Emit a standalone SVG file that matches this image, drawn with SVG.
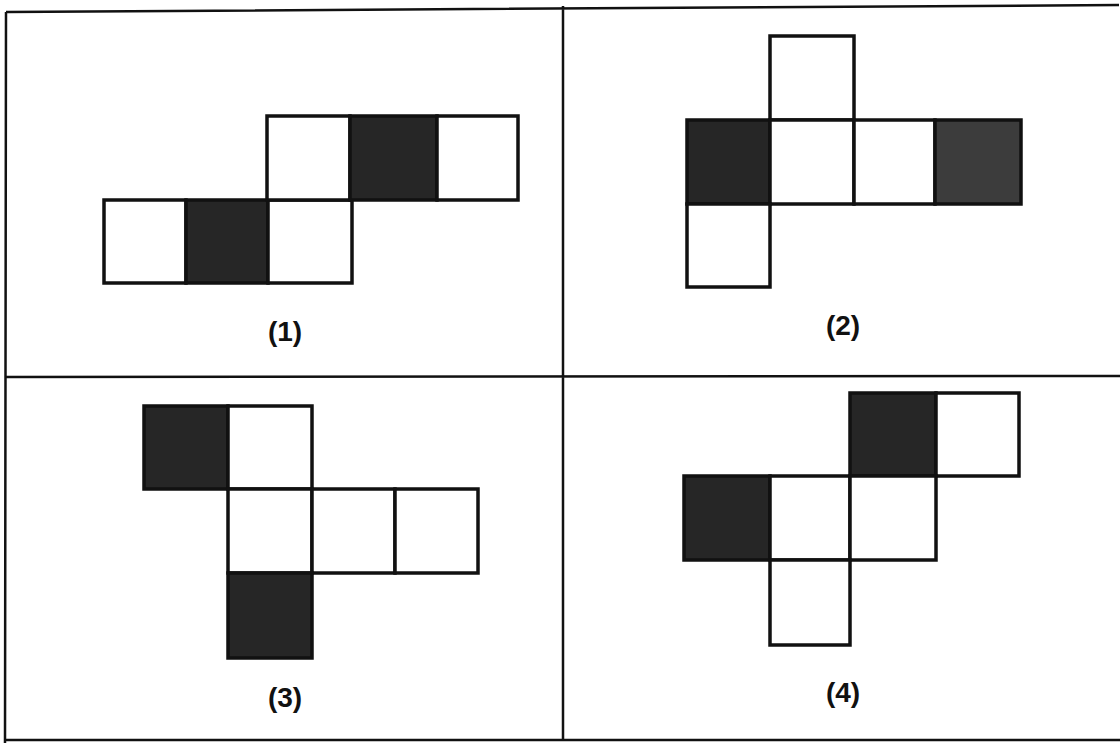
<svg xmlns="http://www.w3.org/2000/svg" width="1120" height="743" viewBox="0 0 1120 743">
<style>
.frame{fill:none;stroke:#111;stroke-width:2.5}
.sq{fill:#fff;stroke:#111;stroke-width:3.5;stroke-linejoin:miter}
.dk{fill:#262626;stroke:#111;stroke-width:3.5}
.md{fill:#3c3c3c;stroke:#111;stroke-width:3.5}
.lbl{font-family:"Liberation Sans",Arial,sans-serif;font-weight:bold;font-size:28px;fill:#111;text-anchor:middle}
</style>
<rect width="1120" height="743" fill="#fff"/>
<g id="frame">
<path class="frame" d="M6 12 L1119 5 M6 12 L5 743 M5 740 L1120 740 M563 6 L563 740 M5 377 L1120 376"/>
</g>
<g id="net1">
<rect class="sq" x="104" y="200" width="82" height="83"/>
<rect class="dk" x="186" y="200" width="82" height="83"/>
<rect class="sq" x="268" y="200" width="84" height="83"/>
<rect class="sq" x="267" y="116" width="83" height="84"/>
<rect class="dk" x="350" y="116" width="87" height="84"/>
<rect class="sq" x="437" y="116" width="81" height="84"/>
<text class="lbl" x="285" y="341">(1)</text>
</g>
<g id="net2">
<rect class="sq" x="770" y="36" width="84" height="84"/>
<rect class="dk" x="687" y="120" width="83" height="84"/>
<rect class="sq" x="770" y="120" width="84" height="84"/>
<rect class="sq" x="854" y="120" width="81" height="84"/>
<rect class="md" x="935" y="120" width="86" height="84"/>
<rect class="sq" x="687" y="204" width="83" height="83"/>
<text class="lbl" x="843" y="335">(2)</text>
</g>
<g id="net3">
<rect class="dk" x="144" y="406" width="84" height="83"/>
<rect class="sq" x="228" y="406" width="84" height="83"/>
<rect class="sq" x="228" y="489" width="84" height="84"/>
<rect class="sq" x="312" y="489" width="83" height="84"/>
<rect class="sq" x="395" y="489" width="83" height="84"/>
<rect class="dk" x="228" y="573" width="84" height="85"/>
<text class="lbl" x="285" y="707">(3)</text>
</g>
<g id="net4">
<rect class="dk" x="850" y="393" width="86" height="83"/>
<rect class="sq" x="936" y="393" width="83" height="83"/>
<rect class="dk" x="684" y="476" width="86" height="84"/>
<rect class="sq" x="770" y="476" width="80" height="84"/>
<rect class="sq" x="850" y="476" width="86" height="84"/>
<rect class="sq" x="770" y="560" width="80" height="85"/>
<text class="lbl" x="843" y="702">(4)</text>
</g>
</svg>
